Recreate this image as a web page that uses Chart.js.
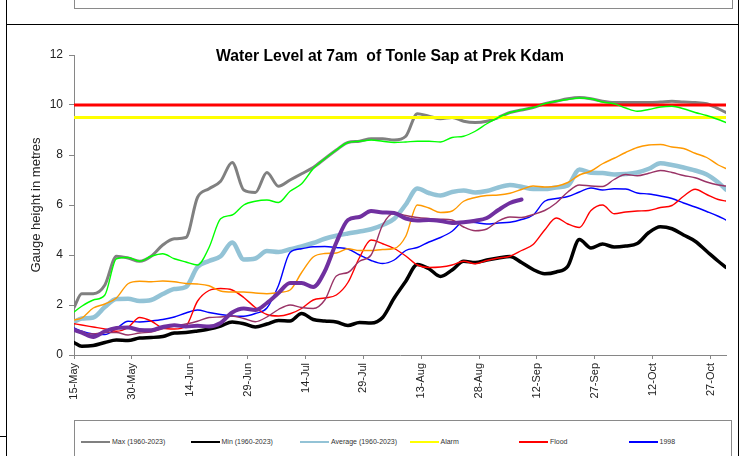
<!DOCTYPE html>
<html>
<head>
<meta charset="utf-8">
<script src="https://cdn.jsdelivr.net/npm/chart.js@4.4.1/dist/chart.umd.min.js"></script>
<style>
  html, body { margin: 0; padding: 0; background: #fff; width: 747px; height: 456px; overflow: hidden; }
  #wrap { position: relative; width: 747px; height: 456px; overflow: hidden; font-family: "Liberation Sans", Arial, sans-serif; }
  #chart { position: absolute; left: 0; top: 0; }
  .rule { position: absolute; background: #000; }
  #topbox { position: absolute; left: 74px; top: -10px; width: 657px; height: 17px; border: 1px solid #8a8a8a; }
  #legend { position: absolute; left: 74px; top: 420px; width: 656px; height: 80px; border: 1px solid #8a8a8a; background: #fff; }
  .item { position: absolute; height: 10px; font-size: 7px; color: #333; white-space: nowrap; }
  .item i { position: absolute; left: 0; top: 4px; width: 29px; height: 2px; }
  .item span { position: absolute; left: 31px; top: 0; line-height: 10px; }
</style>
</head>
<body>
<div id="wrap">
  <div id="topbox"></div>
  <div class="rule" style="left:6px;top:0;width:1px;height:456px"></div>
  <div class="rule" style="left:6px;top:24px;width:732px;height:1px"></div>
  <div class="rule" style="left:738px;top:0;width:1px;height:456px"></div>
  <div class="rule" style="left:0;top:436px;width:6px;height:1px"></div>
  <canvas id="chart" width="747" height="456"></canvas>
  <div id="legend"></div>
</div>
<script>
// Water level (m) at Prek Kdam, 7am readings, by day counted from 15 May
const TITLE = 'Water Level at 7am  of Tonle Sap at Prek Kdam';
const TICK_LABELS = ['15-May', '30-May', '14-Jun', '29-Jun', '14-Jul', '29-Jul', '13-Aug',
                     '28-Aug', '12-Sep', '27-Sep', '12-Oct', '27-Oct'];
const DAYS = [0, 2, 5, 8, 11, 14, 17, 20, 23, 26, 29, 32, 35, 38, 41, 44, 47, 50, 53, 56,
              59, 62, 65, 68, 71, 74, 77, 80, 83, 86, 89, 92, 95, 98, 101, 104, 107, 110, 113, 116,
              119, 122, 125, 128, 131, 134, 137, 140, 143, 146, 149, 152, 155, 158, 161, 164, 167, 169];

const MAX_LEVEL = [1.9, 2.45, 2.45, 2.8, 3.95, 3.88, 3.75, 3.95, 4.4, 4.65, 4.7, 6.3, 6.65, 6.95, 7.7, 6.6, 6.5, 7.3, 6.75, 7.0,
                   7.25, 7.5, 7.85, 8.2, 8.5, 8.55, 8.65, 8.65, 8.6, 8.75, 9.65, 9.55, 9.45, 9.5, 9.35, 9.3, 9.35, 9.5, 9.7, 9.8,
                   9.9, 10.05, 10.15, 10.25, 10.3, 10.25, 10.15, 10.1, 10.1, 10.1, 10.1, 10.12, 10.15, 10.12, 10.1, 10.05, 9.85, 9.7];
const MIN_LEVEL = [0.5, 0.35, 0.38, 0.5, 0.6, 0.58, 0.68, 0.7, 0.74, 0.88, 0.9, 0.96, 1.04, 1.16, 1.32, 1.25, 1.12, 1.24, 1.38, 1.36,
                   1.66, 1.42, 1.36, 1.32, 1.18, 1.3, 1.28, 1.5, 2.28, 2.95, 3.62, 3.45, 3.14, 3.4, 3.75, 3.7, 3.8, 3.88, 3.94, 3.7,
                   3.42, 3.25, 3.32, 3.55, 4.62, 4.28, 4.44, 4.32, 4.36, 4.46, 4.9, 5.13, 5.05, 4.8, 4.55, 4.15, 3.75, 3.5];
const AVG_LEVEL = [1.32, 1.46, 1.5, 1.92, 2.24, 2.25, 2.16, 2.2, 2.44, 2.64, 2.72, 3.52, 3.76, 3.95, 4.5, 3.82, 3.86, 4.16, 4.12, 4.23,
                   4.34, 4.48, 4.65, 4.77, 4.86, 4.94, 5.03, 5.2, 5.45, 6.02, 6.66, 6.48, 6.38, 6.52, 6.58, 6.5, 6.56, 6.7, 6.8, 6.73,
                   6.64, 6.64, 6.7, 6.78, 7.42, 7.29, 7.28, 7.22, 7.24, 7.3, 7.45, 7.67, 7.6, 7.5, 7.38, 7.22, 6.9, 6.62];
const LEVEL_1998 = [1.08, 0.95, 0.84, 0.82, 1.06, 1.35, 1.32, 1.36, 1.42, 1.52, 1.68, 1.8, 1.7, 1.62, 1.56, 1.55, 1.66, 1.88, 2.78, 4.1,
                    4.25, 4.33, 4.34, 4.3, 4.24, 4.0, 3.78, 3.66, 3.8, 4.18, 4.3, 4.52, 4.7, 4.95, 5.33, 5.3, 5.24, 5.28, 5.31, 5.42,
                    5.6, 6.15, 6.26, 6.34, 6.52, 6.68, 6.6, 6.65, 6.64, 6.48, 6.44, 6.36, 6.26, 6.08, 5.92, 5.74, 5.55, 5.4];
const LEVEL_2000 = [1.72, 1.95, 2.2, 2.4, 3.85, 3.9, 3.75, 3.95, 4.05, 3.85, 3.72, 3.6, 4.3, 5.45, 5.6, 6.0, 6.15, 6.2, 6.1, 6.55,
                    6.85, 7.45, 7.85, 8.2, 8.5, 8.55, 8.6, 8.55, 8.5, 8.52, 8.55, 8.55, 8.52, 8.7, 8.75, 8.95, 9.25, 9.5, 9.7, 9.8,
                    9.9, 10.05, 10.15, 10.22, 10.28, 10.25, 10.12, 10.05, 9.88, 9.75, 9.82, 9.92, 9.95, 9.85, 9.7, 9.58, 9.42, 9.3];
const LEVEL_2019 = [1.25, 1.2, 1.12, 1.04, 0.95, 1.1, 1.5, 1.36, 1.08, 1.04, 1.15, 2.15, 2.58, 2.66, 2.6, 2.3, 1.9, 1.62, 1.56, 1.65,
                    1.86, 2.2, 2.28, 2.4, 2.9, 3.9, 4.6, 4.45, 4.26, 3.96, 3.6, 3.5, 3.52, 3.6, 3.75, 3.65, 3.78, 3.88, 3.95, 4.18,
                    4.42, 5.0, 5.48, 5.24, 5.1, 5.78, 6.0, 5.65, 5.72, 5.76, 5.78, 5.9, 5.98, 6.35, 6.63, 6.42, 6.22, 6.16];
const LEVEL_2022 = [1.4, 1.48, 1.88, 2.04, 2.28, 2.85, 2.95, 2.93, 2.96, 2.93, 2.86, 2.84, 2.77, 2.56, 2.52, 2.52, 2.48, 2.45, 2.5, 2.6,
                    3.3, 3.92, 4.06, 4.08, 4.25, 4.18, 4.18, 4.22, 4.26, 4.75, 6.0, 5.88, 5.7, 5.76, 6.15, 6.3, 6.38, 6.4, 6.47, 6.62,
                    6.76, 6.72, 6.75, 6.9, 7.2, 7.36, 7.65, 7.87, 8.1, 8.3, 8.4, 8.42, 8.32, 8.26, 8.07, 7.9, 7.6, 7.46];
const LEVEL_2023 = [1.0, 0.88, 0.84, 0.9, 0.9, 0.8, 0.88, 0.92, 1.05, 1.16, 1.24, 1.35, 1.5, 1.52, 1.56, 1.46, 1.33, 1.52, 1.82, 2.0,
                    1.9, 1.86, 2.2, 3.16, 3.3, 3.75, 4.0, 5.2, 5.68, 5.58, 5.5, 5.46, 5.43, 5.4, 5.12, 4.97, 5.04, 5.36, 5.52, 5.5,
                    5.62, 5.78, 6.08, 6.52, 6.8, 6.76, 6.74, 7.02, 7.22, 7.17, 7.27, 7.38, 7.3, 7.18, 7.09, 6.92, 6.8, 6.76];
const LEVEL_2024 = [1.0, 0.9, 0.72, 0.95, 1.08, 1.1, 1.0, 0.99, 1.12, 1.19, 1.14, 1.17, 1.14, 1.28, 1.7, 1.86, 1.8, 2.08, 2.48, 2.88,
                    2.88, 2.72, 3.35, 4.5, 5.4, 5.52, 5.76, 5.7, 5.68, 5.46, 5.38, 5.4, 5.36, 5.28, 5.31, 5.37, 5.48, 5.8, 6.08, 6.22];
const ALARM_LEVEL = 9.5;
const FLOOD_LEVEL = 10.0;

const toPoints = values => values.map((v, i) => ({ x: DAYS[i], y: v }));
const flat = level => [{ x: DAYS[0], y: level }, { x: DAYS[DAYS.length - 1], y: level }];

function line(label, data, color, width, z) {
  return {
    label, data, borderColor: color, backgroundColor: color, borderWidth: width,
    pointRadius: 0, fill: false, cubicInterpolationMode: 'monotone', order: z,
    borderCapStyle: 'round', borderJoinStyle: 'round'
  };
}

// lower "order" is painted on top
const datasets = [
  line('Max (1960-2023)', toPoints(MAX_LEVEL), '#808080', 3, 10),
  line('Min (1960-2023)', toPoints(MIN_LEVEL), '#000000', 3.5, 9),
  line('Average (1960-2023)', toPoints(AVG_LEVEL), '#93c3d6', 4.5, 11),
  line('Alarm', flat(ALARM_LEVEL), '#ffff00', 3, 8),
  line('Flood', flat(FLOOD_LEVEL), '#ff0000', 3, 7),
  line('1998', toPoints(LEVEL_1998), '#0000ff', 1.4, 6),
  line('2000', toPoints(LEVEL_2000), '#00ff00', 1.4, 5),
  line('2019', toPoints(LEVEL_2019), '#ff0000', 1.4, 4),
  line('2022', toPoints(LEVEL_2022), '#ff9900', 1.4, 3),
  line('2023', toPoints(LEVEL_2023), '#993366', 1.4, 2),
  line('2024', toPoints(LEVEL_2024), '#7030a0', 4, 1)
];

const titlePlugin = {
  id: 'plotTitle',
  afterDraw(chart) {
    const ctx = chart.ctx;
    ctx.save();
    ctx.font = 'bold 15.7px "Liberation Sans", Arial, sans-serif';
    ctx.fillStyle = '#000';
    ctx.textAlign = 'center';
    ctx.textBaseline = 'middle';
    ctx.fillText(TITLE, 390, 57);
    ctx.restore();
  }
};

const axisGrey = '#868686';
const textColor = '#222';

new Chart(document.getElementById('chart'), {
  type: 'line',
  data: { datasets },
  plugins: [titlePlugin],
  options: {
    responsive: false,
    animation: false,
    devicePixelRatio: 1,
    layout: { padding: { left: 0, top: 55, right: 21, bottom: 0 } },
    plugins: { legend: { display: false }, tooltip: { enabled: false }, title: { display: false } },
    scales: {
      x: {
        type: 'linear', min: 0, max: 169,
        afterBuildTicks: s => { s.ticks = TICK_LABELS.map((_, i) => ({ value: i * 15 })); },
        afterFit: s => { s.height = 101; },
        ticks: {
          autoSkip: false, maxRotation: 90, minRotation: 90, padding: 4,
          color: textColor, font: { family: '"Liberation Sans", Arial, sans-serif', size: 11 },
          callback: v => TICK_LABELS[Math.round(v / 15)]
        },
        grid: { drawOnChartArea: false, tickLength: 4, color: axisGrey },
        border: { color: axisGrey, width: 1 }
      },
      y: {
        min: 0, max: 12,
        afterFit: s => { s.width = 74; },
        ticks: {
          stepSize: 2, padding: 6, color: textColor,
          font: { family: '"Liberation Sans", Arial, sans-serif', size: 12 }
        },
        grid: { drawOnChartArea: false, tickLength: 5, color: axisGrey },
        border: { color: axisGrey, width: 1 },
        title: {
          display: true, text: 'Gauge height in metres', color: textColor,
          font: { family: '"Liberation Sans", Arial, sans-serif', size: 13 },
          padding: { top: 29, bottom: 0 }
        }
      }
    }
  }
});

// Legend: six entries per row inside the framed box
const legend = document.getElementById('legend');
datasets.forEach((ds, i) => {
  const el = document.createElement('div');
  el.className = 'item';
  el.style.left = (6 + (i % 6) * 109.5) + 'px';
  el.style.top = (16 + Math.floor(i / 6) * 24) + 'px';
  const sw = document.createElement('i');
  sw.style.background = ds.borderColor;
  const tx = document.createElement('span');
  tx.textContent = ds.label;
  el.appendChild(sw);
  el.appendChild(tx);
  legend.appendChild(el);
});
</script>
</body>
</html>
